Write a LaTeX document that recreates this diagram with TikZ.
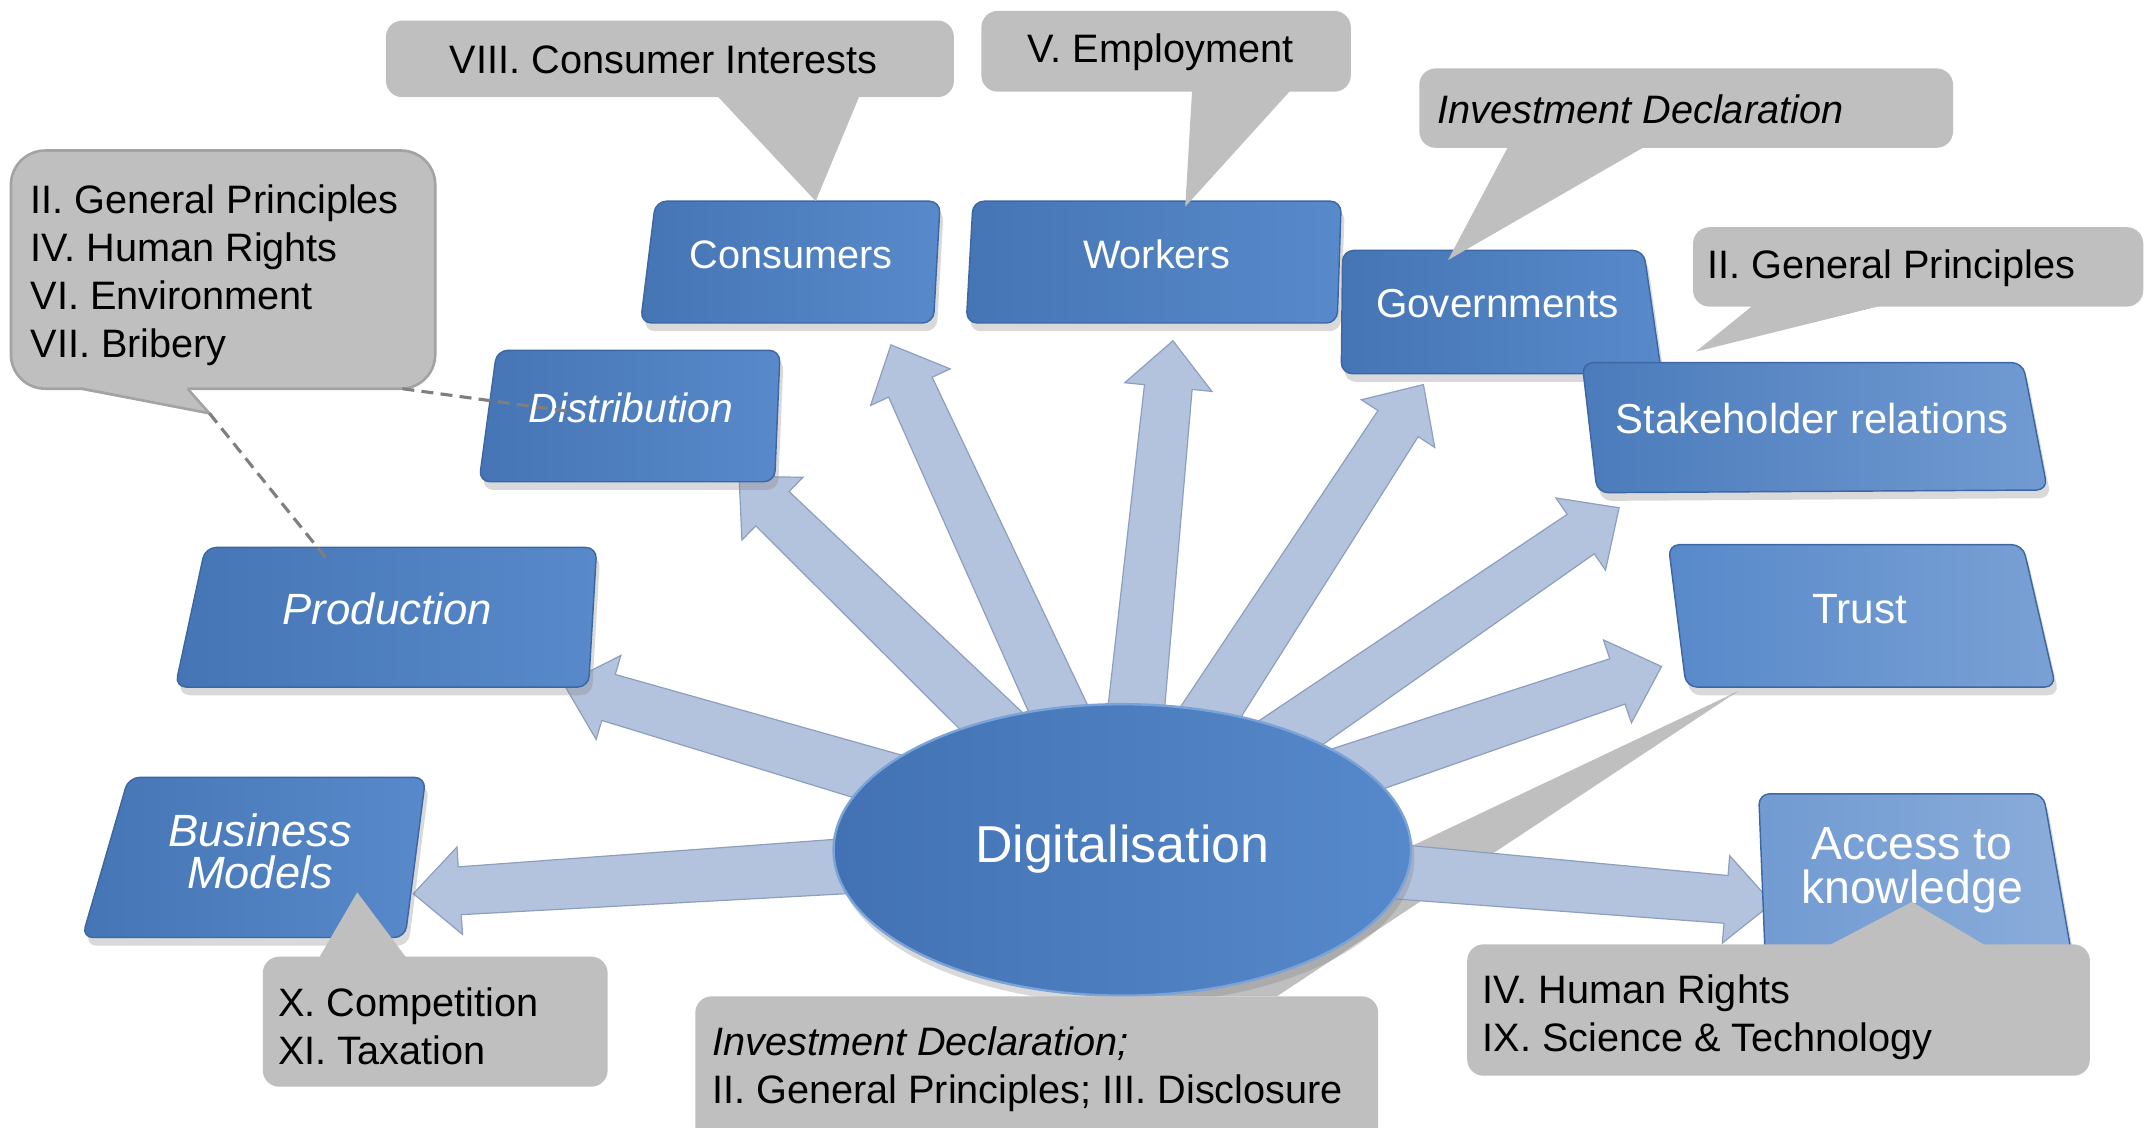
\documentclass[tikz,border=0pt]{standalone}
\usepackage{fontspec}
\setmainfont{Liberation Sans}
\usetikzlibrary{calc,shadows,shapes.geometric}
\definecolor{calloutgray}{HTML}{BFBFBF}
\definecolor{bordergray}{HTML}{A3A3A3}
\definecolor{boxL}{HTML}{4575B4}
\definecolor{boxR}{HTML}{5889CA}
\definecolor{boxedge}{HTML}{3C67A2}
\definecolor{arrowfill}{HTML}{B4C3DD}
\definecolor{arrowline}{HTML}{8C9FC0}
\definecolor{dashgray}{HTML}{7F7F7F}
\definecolor{ellL}{HTML}{4272B3}
\definecolor{ellR}{HTML}{5689CB}
\definecolor{ellEdge}{HTML}{7AA3D8}

\newcommand\blockarrow[3]{%
  \coordinate (#1h) at ($(#3)!0.68cm!(#2)$);
  \draw[arrowstyle] ($(#2)!0.44cm!90:(#3)$) -- ($(#1h)!0.35cm!90:(#3)$) -- ($(#1h)!0.64cm!90:(#3)$) -- (#3)
     -- ($(#1h)!0.64cm!-90:(#3)$) -- ($(#1h)!0.35cm!-90:(#3)$) -- ($(#2)!0.44cm!-90:(#3)$) -- cycle;
}

\begin{document}
\begin{tikzpicture}[x=0.02cm,y=-0.02cm,
  callout/.style={fill=calloutgray},
  ctext/.style={font=\fontsize{16.5}{19.9}\selectfont, inner sep=0pt, align=left, anchor=west, text=black},
  btext/.style={text=white, inner sep=0pt, align=center},
  bluebox/.style={rounded corners=0.16cm, draw=boxedge, line width=0.6pt, left color=boxL, right color=boxR,
     drop shadow={opacity=0.3, shadow xshift=0.5mm, shadow yshift=-1.2mm}},
  arrowstyle/.style={fill=arrowfill, draw=arrowline, line width=0.5pt, line join=miter},
  dashlink/.style={draw=dashgray, line width=1.3pt, dash pattern=on 5pt off 3pt},
  digi/.style={ellipse, draw=ellEdge, line width=1pt, left color=ellL, right color=ellR, text=white,
     minimum width=8.44cm, minimum height=4.26cm, inner sep=0pt,
     font=\fontsize{21.6}{26}\selectfont, drop shadow={opacity=0.3, shadow xshift=0.5mm, shadow yshift=-1.2mm}}
]
\useasboundingbox (0,0) rectangle (1568,824);
\clip (0,0) rectangle (1568,824);

% pointer of the bottom callout (behind the ellipse and arrows)
\fill[callout] (800,728) -- (1270,505) -- (933,728) -- cycle;

% arrows
\coordinate (dc) at (820,620);
\coordinate (tBM) at (302,653);
\coordinate (tProd) at (412,500);
\coordinate (tDist) at (540,348);
\coordinate (tCons) at (651,252);
\coordinate (tWork) at (857,249);
\coordinate (tGov) at (1040,281);
\coordinate (tStake) at (1183,371);
\coordinate (tTrust) at (1214,487);
\coordinate (tAcc) at (1295,660);
\blockarrow{aBM}{dc}{tBM}
\blockarrow{aProd}{dc}{tProd}
\blockarrow{aDist}{dc}{tDist}
\blockarrow{aCons}{dc}{tCons}
\blockarrow{aWork}{dc}{tWork}
\blockarrow{aGov}{dc}{tGov}
\blockarrow{aStake}{dc}{tStake}
\blockarrow{aTrust}{dc}{tTrust}
\blockarrow{aAcc}{dc}{tAcc}

% central ellipse
\node[digi] (dig) at (820,621) {\raisebox{0.18cm}{Digitalisation}};

% blue boxes
\path[bluebox] (94,568) -- (311,568) -- (296,685) -- (60,685) -- cycle;
\node[btext, font={\fontsize{18.8}{17.6}\selectfont\itshape}] (bm) at (190,622) {Business\\Models};

\path[bluebox] (150,400) -- (436,400) -- (430,502) -- (128,502) -- cycle;
\node[btext, font={\fontsize{18.2}{22}\selectfont\itshape}] (prod) at (283,445) {Production};

\path[bluebox] (363,256) -- (570,256) -- (566,352) -- (350,352) -- cycle;
\node[btext, font={\fontsize{17}{20}\selectfont\itshape}] (dist) at (461,298) {Distribution};

\path[bluebox] (479,147) -- (687,147) -- (682,236) -- (468,236) -- cycle;
\node[btext, font={\fontsize{16.5}{20}\selectfont}] (cons) at (578,186) {Consumers};

\path[bluebox] (981,183) -- (1201,183) -- (1214,273) -- (980,273) -- cycle;
\node[btext, font={\fontsize{16.8}{20}\selectfont}] (gov) at (1094,222) {Governments};

\path[bluebox] (711,147) -- (980,147) -- (977,236) -- (706,236) -- cycle;
\node[btext, font={\fontsize{16.5}{20}\selectfont}] (work) at (845,186) {Workers};

\path[bluebox, left color=boxL!70!boxR, right color=boxR!85!white] (1156,265) -- (1478,265) -- (1496,358) -- (1167,360) -- cycle;
\node[btext, font={\fontsize{17.4}{20}\selectfont}] (stake) at (1324,306) {Stakeholder relations};

\path[bluebox, left color=boxR, right color=boxR!80!white] (1219,398) -- (1478,398) -- (1502,502) -- (1232,502) -- cycle;
\node[btext, font={\fontsize{17.6}{20}\selectfont}] (trust) at (1359,445) {Trust};

\path[bluebox, left color=boxR!85!white, right color=boxR!70!white] (1285,580) -- (1493,580) -- (1515,705) -- (1290,705) -- cycle;
\node[btext, font={\fontsize{19.3}{18.2}\selectfont}] (acc) at (1397,636) {Access to\\knowledge};

% callouts
\fill[callout, rounded corners=0.24cm] (282,15) rectangle (697,71);
\fill[callout] (524,70) -- (596,147) -- (628,70) -- cycle;
\node[ctext, anchor=center] (c1) at (485,44) {VIII. Consumer Interests};

\fill[callout, rounded corners=0.24cm] (717,8) rectangle (987,67);
\fill[callout] (871,66) -- (866,151) -- (943,66) -- cycle;
\node[ctext, anchor=center] (c2) at (848,38) {V. Employment};

\fill[callout, rounded corners=0.24cm] (1037,50) rectangle (1427,108);
\fill[callout] (1102,107) -- (1058,190) -- (1202,107) -- cycle;
\node[ctext] (c3) at (1050,80) {\itshape Investment Declaration};

\fill[callout, rounded corners=0.24cm] (1237,166) rectangle (1566,224);
\fill[callout] (1281,223) -- (1239,257) -- (1376,223) -- cycle;
\node[ctext] (c4) at (1247,196) {II. General Principles};

% left callout with border
\draw[fill=calloutgray, draw=bordergray, line width=1.1pt, rounded corners=0.5cm] (8,110) rectangle (318,284);
\fill[calloutgray] (60.5,281) -- (60.5,285.2) -- (153,302) -- (137,285.2) -- (137,281) -- cycle;
\draw[draw=bordergray, line width=1.1pt, line join=miter] (60,284) -- (153,302) -- (137,284);
\node[ctext] (c5) at (22,201) {II. General Principles\\IV. Human Rights\\VI. Environment\\VII. Bribery};
\coordinate (lcTip) at (153,302);
\coordinate (lcCorner) at (294,284);
\coordinate (prodIn) at (240,410);
\coordinate (distIn) at (419,301);
\draw[dashlink] (lcTip) -- (prodIn);
\draw[dashlink] (lcCorner) -- (distIn);

\fill[callout, rounded corners=0.24cm] (192,699) rectangle (444,794);
\fill[callout] (233,700) -- (261,652) -- (297,700) -- cycle;
\node[ctext] (c6) at (203,750) {X. Competition\\XI. Taxation};

\fill[callout, rounded corners=0.24cm] (508,728) rectangle (1007,860);
\node[ctext] (c7) at (520,781) {\textit{Investment Declaration;}\\II. General Principles; III. Disclosure};

\fill[callout, rounded corners=0.24cm] (1072,690) rectangle (1527,786);
\fill[callout] (1336,691) -- (1397,659) -- (1451,691) -- cycle;
\node[ctext] (c8) at (1083,743) {IV. Human Rights\\IX. Science \& Technology};
\end{tikzpicture}
\end{document}
